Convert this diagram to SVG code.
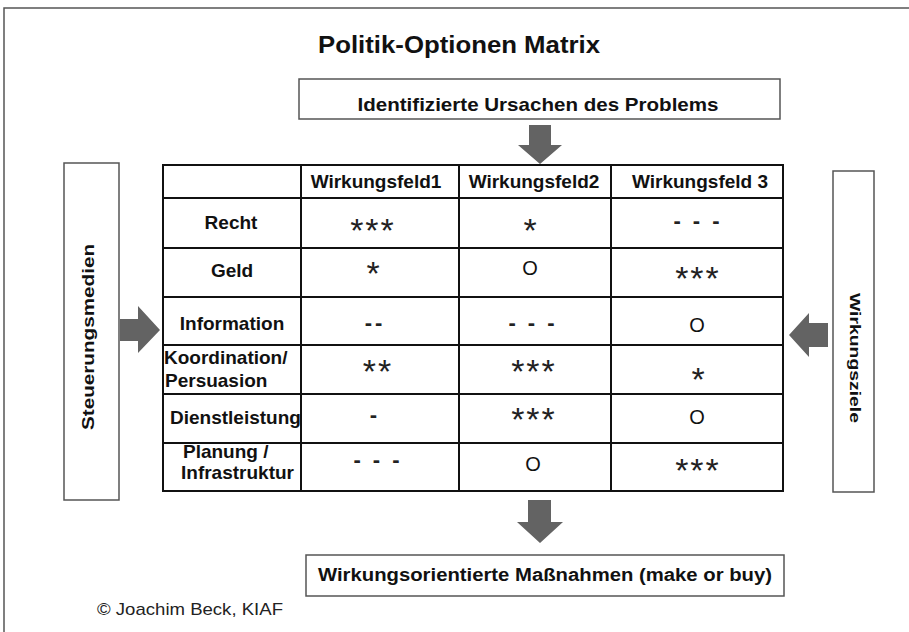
<svg xmlns="http://www.w3.org/2000/svg" width="909" height="632" viewBox="0 0 909 632">
<style>
.frame{fill:none;stroke:#555;stroke-width:1.5}
.box{fill:#fff;stroke:#555;stroke-width:1.5}
.grid{fill:none;stroke:#111;stroke-width:2}
.arr{fill:#636363}
.cal{font-family:"Liberation Sans Narrow","Liberation Sans",Arial,sans-serif;font-weight:bold;fill:#111}
.calr{font-family:"Liberation Sans Narrow","Liberation Sans",Arial,sans-serif;font-weight:normal;fill:#222}
.t{font-family:"Liberation Sans",Arial,sans-serif;font-weight:bold;font-size:19px;fill:#111;text-anchor:middle}
.tl{font-family:"Liberation Sans",Arial,sans-serif;font-weight:bold;font-size:19px;fill:#111;text-anchor:start}
.v{font-family:"Liberation Sans",Arial,sans-serif;font-size:34px;letter-spacing:2px;fill:#222;text-anchor:middle}
.o{font-family:"Liberation Sans",Arial,sans-serif;font-size:20px;fill:#111;text-anchor:middle}
.d{font-family:"Liberation Sans",Arial,sans-serif;font-size:22px;font-weight:bold;letter-spacing:3px;fill:#222;text-anchor:middle}
</style>
<rect width="909" height="632" fill="#fff"/>
<path class="frame" d="M4 632 V8 H909"/>
<text id="title" class="cal" x="459" y="53" font-size="24" text-anchor="middle" textLength="282" lengthAdjust="spacingAndGlyphs">Politik-Optionen Matrix</text>
<g id="ursachen">
<rect class="box" x="299" y="79" width="481" height="40"/>
<text class="cal" x="538" y="111" font-size="19" text-anchor="middle" textLength="361" lengthAdjust="spacingAndGlyphs">Identifizierte  Ursachen des Problems</text>
</g>
<g id="steuerungsmedien">
<rect class="box" x="64" y="163" width="55" height="337"/>
<text class="cal" transform="translate(94 337) rotate(-90)" font-size="16" text-anchor="middle" textLength="186" lengthAdjust="spacingAndGlyphs">Steuerungsmedien</text>
</g>
<g id="wirkungsziele">
<rect class="box" x="833" y="171" width="41" height="321"/>
<text class="t" transform="translate(850 358) rotate(90)" style="font-size:15px" textLength="130" lengthAdjust="spacingAndGlyphs">Wirkungsziele</text>
</g>
<g id="massnahmen">
<rect class="box" x="306" y="555" width="478" height="41"/>
<text class="cal" x="545" y="581" font-size="18" text-anchor="middle" textLength="454" lengthAdjust="spacingAndGlyphs">Wirkungsorientierte Maßnahmen  (make or buy)</text>
</g>
<text id="copyright" class="calr" x="97" y="615" font-size="17" textLength="186" lengthAdjust="spacingAndGlyphs">© Joachim Beck, KIAF</text>
<g id="matrix">
<rect class="grid" x="163" y="165" width="620" height="326"/>
<path class="grid" d="M301 165V491M459 165V491M611 165V491M163 198H783M163 248H783M163 297H783M163 345H783M163 394H783M163 443H783"/>
<text class="t" x="376" y="188">Wirkungsfeld1</text>
<text class="t" x="534" y="188">Wirkungsfeld2</text>
<text class="t" x="700" y="188">Wirkungsfeld 3</text>
<text class="t" x="231" y="229">Recht</text>
<text class="t" x="232" y="277">Geld</text>
<text class="t" x="232" y="330">Information</text>
<text class="tl" x="164" y="364">Koordination/</text>
<text class="tl" x="165" y="387">Persuasion</text>
<text class="tl" x="170" y="424">Dienstleistung</text>
<text class="tl" x="183" y="458">Planung /</text>
<text class="tl" x="181" y="479">Infrastruktur</text>
<text class="v" x="373" y="242">***</text>
<text class="v" x="531" y="242">*</text>
<text class="d" x="698" y="228">- - -</text>
<text class="v" x="374" y="285">*</text>
<text class="o" x="530" y="275">O</text>
<text class="v" x="698" y="290">***</text>
<text class="d" x="375" y="330">--</text>
<text class="d" x="533" y="330">- - -</text>
<text class="o" x="697" y="332">O</text>
<text class="v" x="378" y="383">**</text>
<text class="v" x="534" y="383">***</text>
<text class="v" x="699" y="391">*</text>
<text class="d" x="375" y="422">-</text>
<text class="v" x="534" y="431">***</text>
<text class="o" x="697" y="424">O</text>
<text class="d" x="378" y="467">- - -</text>
<text class="o" x="533" y="471">O</text>
<text class="v" x="698" y="482">***</text>
</g>
<g id="connectors">
<polygon class="arr" points="529,125 551,125 551,145 562,145 540,164 518,145 529,145"/>
<polygon class="arr" points="528,500 551,500 551,522 563,522 540,543 517,522 528,522"/>
<polygon class="arr" points="120,319 138,319 138,306 160,330 138,353 138,341 120,341"/>
<polygon class="arr" points="828,323 809,323 809,313 789,335 809,357 809,347 828,347"/>
</g>
</svg>
